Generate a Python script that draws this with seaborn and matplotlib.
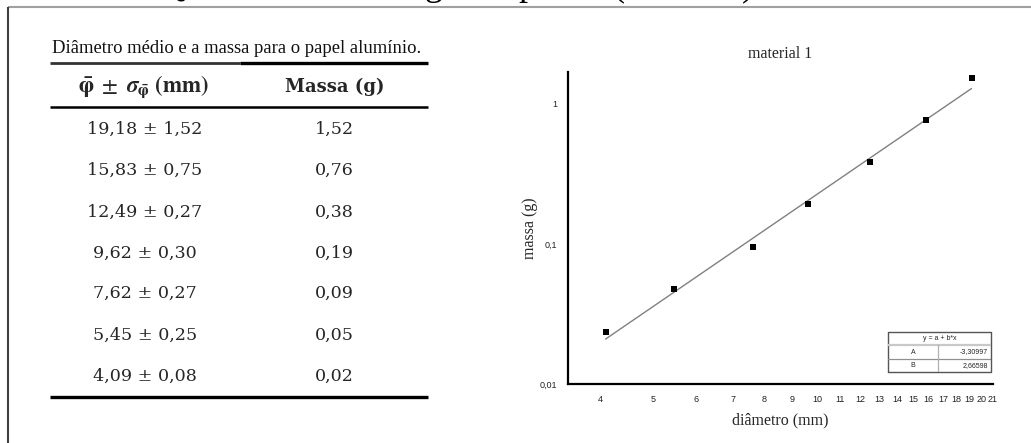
import numpy as np
import pandas as pd
import matplotlib
matplotlib.use("Agg")
import matplotlib.pyplot as plt
import seaborn as sns
from matplotlib.ticker import FixedLocator, LogLocator, NullFormatter, FuncFormatter

# tabela: diametro medio, desvio e massa (como aparece no documento)
diametro_txt = ["19,18", "15,83", "12,49", "9,62", "7,62", "5,45", "4,09"]
sigma_txt = ["1,52", "0,75", "0,27", "0,30", "0,27", "0,25", "0,08"]
massa_txt = ["1,52", "0,76", "0,38", "0,19", "0,09", "0,05", "0,02"]

# pontos do grafico
diametro = [4.09, 5.45, 7.62, 9.62, 12.49, 15.83, 19.18]
massa = [0.0237, 0.0474, 0.0947, 0.192, 0.383, 0.769, 1.53]

# ajuste linear log10(m) = A + B*log10(d)
coef_a = -3.30997
coef_b = 2.66598

x_ticks = list(range(4, 22))
y_ticks = [0.01, 0.1, 1]
y_tick_labels = ["0,01", "0,1", "1"]

sns.set_theme(style="white")
plt.rcParams["font.family"] = ["Liberation Serif", "DejaVu Serif"]
plt.rcParams["mathtext.fontset"] = "stix"

W, H = 1031, 443
fig = plt.figure(figsize=(W / 100, H / 100), dpi=100)
fig.patch.set_facecolor("white")

# --- camada de fundo em coordenadas de pixel (documento + tabela) ---
bg = fig.add_axes([0, 0, 1, 1])
bg.set_xlim(0, W)
bg.set_ylim(H, 0)
bg.axis("off")

# moldura da pagina
bg.plot([8, W], [7, 7], color="#a0a0a0", lw=1.5, solid_capstyle="butt")
bg.plot([8, 8], [7, H], color="#404040", lw=1.5, solid_capstyle="butt")

# restos do titulo cortado no topo da pagina
for ch, xp in [("Q", 158), ("g", 424), ("p", 518), ("(", 612), (")", 742)]:
    bg.text(xp, -5, ch, fontsize=26, ha="left", va="baseline", color="black")

# legenda e tabela
bg.text(52, 48, "Diâmetro médio e a massa para o papel alumínio.",
        fontsize=13.4, ha="left", va="center", color="#111111")
bg.plot([50, 240], [63, 63], color="#333333", lw=2.0, solid_capstyle="butt")
bg.plot([240, 428], [63, 63], color="black", lw=2.4, solid_capstyle="butt")
bg.plot([50, 428], [107, 107], color="black", lw=1.8, solid_capstyle="butt")
bg.plot([50, 428], [397, 397], color="black", lw=2.4, solid_capstyle="butt")

bg.text(144, 87,
        r"$\mathbf{\bar{\varphi}}\ \pm\ \mathbfit{\sigma}_{\mathbf{\bar{\varphi}}}\ \mathbf{(mm)}$",
        fontsize=16.5, ha="center", va="center")
bg.text(335, 87, "Massa (g)", fontsize=13, fontweight="bold", ha="center",
        va="center", family=["DejaVu Serif"])

row_y = [129, 170, 212, 253, 293, 335, 376]
for yy, d, s, m in zip(row_y, diametro_txt, sigma_txt, massa_txt):
    bg.text(145, yy, f"{d} ± {s}", fontsize=12.6, ha="center", va="center",
            family=["DejaVu Serif"])
    bg.text(334, yy, m, fontsize=12.6, ha="center", va="center",
            family=["DejaVu Serif"])

# --- grafico log-log ---
ax = fig.add_axes([568 / W, (H - 384) / H, (993 - 568) / W, (384 - 72) / H])
ax.set_facecolor("none")

df = pd.DataFrame({"diametro": diametro, "massa": massa})
d_fit = np.array([min(diametro), max(diametro)])
fit = pd.DataFrame({"diametro": d_fit,
                    "massa": 10 ** (coef_a + coef_b * np.log10(d_fit))})

sns.lineplot(data=fit, x="diametro", y="massa", ax=ax, color="#808080", lw=1.0)
sns.scatterplot(data=df, x="diametro", y="massa", ax=ax, marker="s", s=20,
                color="black", edgecolor="black", linewidth=0, zorder=3)

ax.set_xscale("log")
ax.set_yscale("log")
ax.set_xlim(3.49, 21)
ax.set_ylim(0.01, 1.69)

ax.xaxis.set_major_locator(FixedLocator(x_ticks))
ax.xaxis.set_major_formatter(FuncFormatter(lambda v, p: f"{int(round(v))}"))
ax.xaxis.set_minor_locator(FixedLocator(np.arange(3.5, 21.01, 0.1)))
ax.xaxis.set_minor_formatter(NullFormatter())
ax.yaxis.set_major_locator(FixedLocator(y_ticks))
ax.set_yticklabels(y_tick_labels)
ax.yaxis.set_minor_locator(LogLocator(base=10, subs=np.arange(2, 10)))
ax.yaxis.set_minor_formatter(NullFormatter())

for side in ["top", "right"]:
    ax.spines[side].set_visible(False)
for side in ["left", "bottom"]:
    ax.spines[side].set_linewidth(1.6)
    ax.spines[side].set_color("black")

ax.tick_params(which="major", direction="out", length=4, width=1.4,
               colors="black", labelsize=6.5, labelcolor="#222222", pad=4)
ax.tick_params(which="minor", direction="out", length=2.5, width=1.1,
               colors="black")
for lab in ax.get_xticklabels() + ax.get_yticklabels():
    lab.set_family(["Liberation Sans", "DejaVu Sans"])

ax.set_title("material 1", fontsize=11.5, pad=10)
ax.set_xlabel("diâmetro (mm)", fontsize=11.5, labelpad=6)
ax.set_ylabel("massa (g)", fontsize=11.5, labelpad=1)

# --- caixa com os parametros do ajuste ---
ins = fig.add_axes([888 / W, (H - 372) / H, 103 / W, 40 / H])
ins.set_xlim(0, 1)
ins.set_ylim(0, 3)
ins.axis("off")
ins.plot([0, 1, 1, 0, 0], [0, 0, 3, 3, 0], color="#555555", lw=1.0, clip_on=False)
ins.plot([0, 1], [2, 2], color="#c8c8c8", lw=1.6)
ins.plot([0, 1], [1, 1], color="#909090", lw=0.9)
ins.plot([0.49, 0.49], [0, 2], color="#b0b0b0", lw=0.9)
ins.text(0.5, 2.5, "y = a + b*x", fontsize=5, ha="center", va="center",
         family=["Liberation Sans"])
ins.text(0.245, 1.5, "A", fontsize=5, ha="center", va="center", family=["Liberation Sans"])
ins.text(0.245, 0.5, "B", fontsize=5, ha="center", va="center", family=["Liberation Sans"])
ins.text(0.97, 1.5, f"{coef_a:.5f}".replace(".", ","), fontsize=5, ha="right",
         va="center", family=["Liberation Sans"])
ins.text(0.97, 0.5, f"{coef_b:.5f}".replace(".", ","), fontsize=5, ha="right",
         va="center", family=["Liberation Sans"])

fig.savefig("out.png", dpi=100)
